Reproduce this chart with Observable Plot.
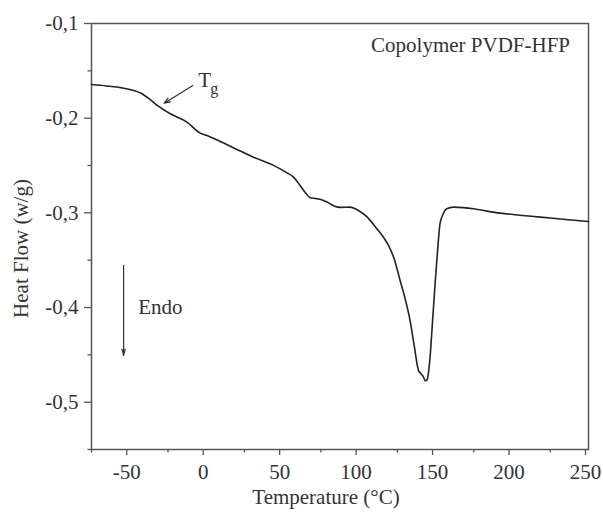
<!DOCTYPE html>
<html>
<head>
<meta charset="utf-8">
<script src="https://cdn.jsdelivr.net/npm/d3@7"></script>
<script src="https://cdn.jsdelivr.net/npm/@observablehq/plot@0.6"></script>
<style>
  html, body { margin: 0; padding: 0; background: white; }
</style>
</head>
<body>
<div id="chart"></div>
<script>
const temperature = [-75, -65, -55, -48, -42, -37, -32, -23.5, -12.6, -3.9, 0, 9.2, 20, 30.9, 44, 52, 57.1, 61.4, 65, 68, 72, 76.7, 80, 84, 88, 94, 99.5, 105, 111.6, 116, 119.2, 123, 126.8, 130, 133.3, 136, 138.8, 140.5, 142, 143.3, 144.5, 146.4, 148, 149.7, 151.3, 152.9, 155, 157.3, 161.6, 168, 174.7, 183, 192.2, 205, 218.3, 235, 250];
const heatFlow = [-0.1645, -0.1660, -0.1680, -0.1705, -0.1742, -0.1800, -0.1866, -0.1954, -0.2042, -0.2158, -0.2180, -0.2246, -0.2330, -0.2412, -0.2499, -0.2570, -0.2623, -0.2711, -0.2790, -0.2840, -0.2850, -0.2869, -0.2895, -0.2930, -0.2942, -0.2940, -0.2975, -0.3040, -0.3168, -0.3260, -0.3344, -0.3490, -0.3714, -0.3900, -0.4136, -0.4400, -0.4664, -0.4700, -0.4730, -0.4775, -0.4760, -0.4524, -0.4150, -0.3749, -0.3400, -0.3115, -0.3010, -0.2957, -0.2940, -0.2945, -0.2957, -0.2980, -0.3003, -0.3025, -0.3045, -0.3070, -0.3091];

const xTicks = [-50, 0, 50, 100, 150, 200, 250];
const xMinorTicks = [-75, -25, 25, 75, 125, 175, 225];
const yTicks = [-0.1, -0.2, -0.3, -0.4, -0.5];
const yMinorTicks = [-0.15, -0.25, -0.35, -0.45, -0.55];

const xLabel = "Temperature (°C)";
const yLabel = "Heat Flow (w/g)";
const sampleLabel = "Copolymer PVDF-HFP";
const endoLabel = "Endo";

const data = temperature.map((t, i) => ({t, h: heatFlow[i]}));

const serif = "'Liberation Serif', 'Times New Roman', 'DejaVu Serif', serif";
const fmtX = d => String(d).replace("\u2212", "-");
const fmtY = d => d3.format(".1f")(d).replace("\u2212", "-").replace(".", ",");
const ink = "#333";
const axisInk = "#555";

const chart = Plot.plot({
  width: 603,
  height: 518,
  marginLeft: 91,
  marginRight: 15,
  marginTop: 23,
  marginBottom: 69,
  x: {domain: [-75, 250]},
  y: {domain: [-0.55, -0.1]},
  style: {fontFamily: serif, fontSize: "21px", color: ink, background: "white"},
  marks: [
    Plot.frame({stroke: axisInk, strokeWidth: 1.5}),
    Plot.axisX(xTicks, {tickSize: 6, tickPadding: 9, tickFormat: fmtX, fontSize: 21, dx: -3, stroke: axisInk, strokeWidth: 1.3, label: null}),
    Plot.axisX(xMinorTicks, {tickSize: 3.5, tickFormat: () => "", stroke: axisInk, strokeWidth: 1.3, label: null}),
    Plot.axisY(yTicks, {tickSize: 7, tickPadding: 6, tickFormat: fmtY, fontSize: 21, stroke: axisInk, strokeWidth: 1.3, label: null}),
    Plot.axisY(yMinorTicks, {tickSize: 3.5, tickFormat: () => "", stroke: axisInk, strokeWidth: 1.3, label: null}),
    Plot.line(data, {x: "t", y: "h", curve: "monotone-x", stroke: "#222", strokeWidth: 1.6}),
    Plot.text([xLabel], {frameAnchor: "bottom", textAnchor: "middle", dx: -14, dy: 54, fontSize: 21, fill: ink}),
    Plot.text([yLabel], {frameAnchor: "left", textAnchor: "middle", rotate: -90, dx: -70, dy: 12, fontSize: 21, fill: ink}),
    Plot.text([sampleLabel], {x: 237.9, y: -0.1232, textAnchor: "end", fontSize: 21, fill: ink}),
    Plot.text([endoLabel], {x: -44.4, y: -0.40, textAnchor: "start", fontSize: 21, fill: ink}),
    Plot.text(["T"], {x: -5.2, y: -0.1597, textAnchor: "start", fontSize: 21, fill: ink}),
    Plot.text(["g"], {x: 2.6, y: -0.1692, textAnchor: "start", fontSize: 16, fill: ink}),
    Plot.arrow([{x1: -8.7, y1: -0.1655, x2: -27.5, y2: -0.1842}], {x1: "x1", y1: "y1", x2: "x2", y2: "y2", stroke: ink, strokeWidth: 1.2, headLength: 8, headAngle: 40}),
    Plot.arrow([{x1: -54, y1: -0.3555, x2: -54, y2: -0.4506}], {x1: "x1", y1: "y1", x2: "x2", y2: "y2", stroke: ink, strokeWidth: 1.2, headLength: 8, headAngle: 30})
  ]
});
document.getElementById("chart").appendChild(chart);
</script>
</body>
</html>
